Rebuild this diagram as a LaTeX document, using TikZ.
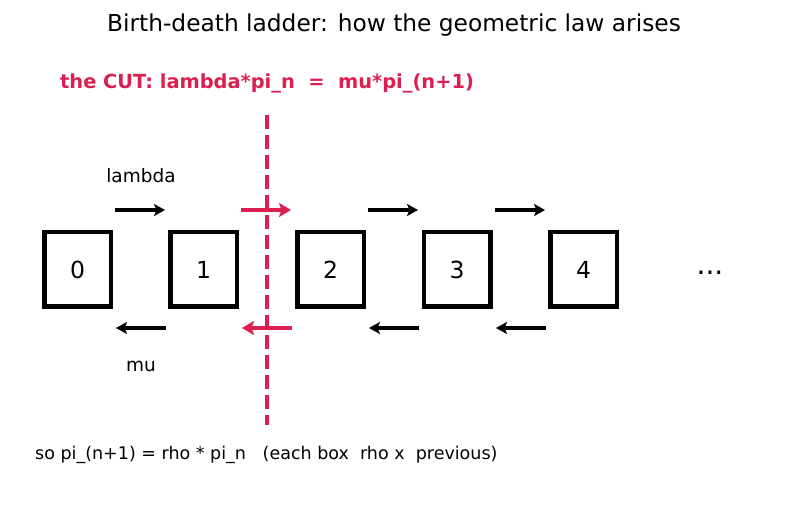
\documentclass[tikz,border=0pt]{standalone}
\usepackage{fontspec}
\setmainfont{DejaVu Sans}
\usetikzlibrary{arrows.meta}
\definecolor{cutred}{RGB}{220,30,80}
\begin{document}
\begin{tikzpicture}[x=1pt,y=-1pt,
  statebox/.style={draw,line width=4.5pt,minimum width=66.5pt,minimum height=74.5pt,inner sep=0pt,font=\fontsize{23.5}{28}\selectfont},
  flow/.style={line width=3.6pt,-{Stealth[length=11pt,width=12pt,inset=2.5pt]}},
  cutflow/.style={line width=4.4pt,color=cutred,-{Stealth[length=12pt,width=14pt,inset=2.5pt]}},
  lbl/.style={font=\fontsize{18.5}{22}\selectfont}]
\useasboundingbox (0,0) rectangle (787,510);
\node[font=\fontsize{23.3}{28}\selectfont] (title) at (394,25) {Birth-death ladder: how the geometric law arises};
\node[font=\bfseries\fontsize{19.4}{23}\selectfont,text=cutred,anchor=west,inner sep=0pt] (cut) at (60,83) {the CUT: lambda*pi\_n \ = \ mu*pi\_(n+1)};
\foreach \i/\x in {0/77.5,1/203.5,2/330.5,3/457,4/583.5}{
  \node[statebox] (b\i) at (\x,269.5) {\i};
}
\node[font=\fontsize{28}{32}\selectfont] (dots) at (710,273) {...};
\coordinate (ct) at (267,115);
\coordinate (cb) at (267,425);
\draw[cutred,line width=4.2pt,dash pattern=on 14pt off 6pt] (ct) -- (cb);
% forward arrows
\coordinate (f0s) at (115,210); \coordinate (f0e) at (165,210);
\coordinate (f1s) at (241,210); \coordinate (f1e) at (291,210);
\coordinate (f2s) at (368,210); \coordinate (f2e) at (418,210);
\coordinate (f3s) at (495,210); \coordinate (f3e) at (545,210);
\draw[flow] (f0s) -- (f0e);
\draw[cutflow] (f1s) -- (f1e);
\draw[flow] (f2s) -- (f2e);
\draw[flow] (f3s) -- (f3e);
% backward arrows
\coordinate (r0s) at (166,328); \coordinate (r0e) at (116,328);
\coordinate (r1s) at (292,328); \coordinate (r1e) at (242,328);
\coordinate (r2s) at (419,328); \coordinate (r2e) at (369,328);
\coordinate (r3s) at (546,328); \coordinate (r3e) at (496,328);
\draw[flow] (r0s) -- (r0e);
\draw[cutflow] (r1s) -- (r1e);
\draw[flow] (r2s) -- (r2e);
\draw[flow] (r3s) -- (r3e);
\node[lbl] (lam) at (141,176) {lambda};
\node[lbl] (mu) at (141,366) {mu};
\node[font=\fontsize{17.5}{21}\selectfont,anchor=west,inner sep=0pt] (note) at (35,455) {so pi\_(n+1) = rho * pi\_n \ \ (each box \ rho x \ previous)};
\end{tikzpicture}
\end{document}
